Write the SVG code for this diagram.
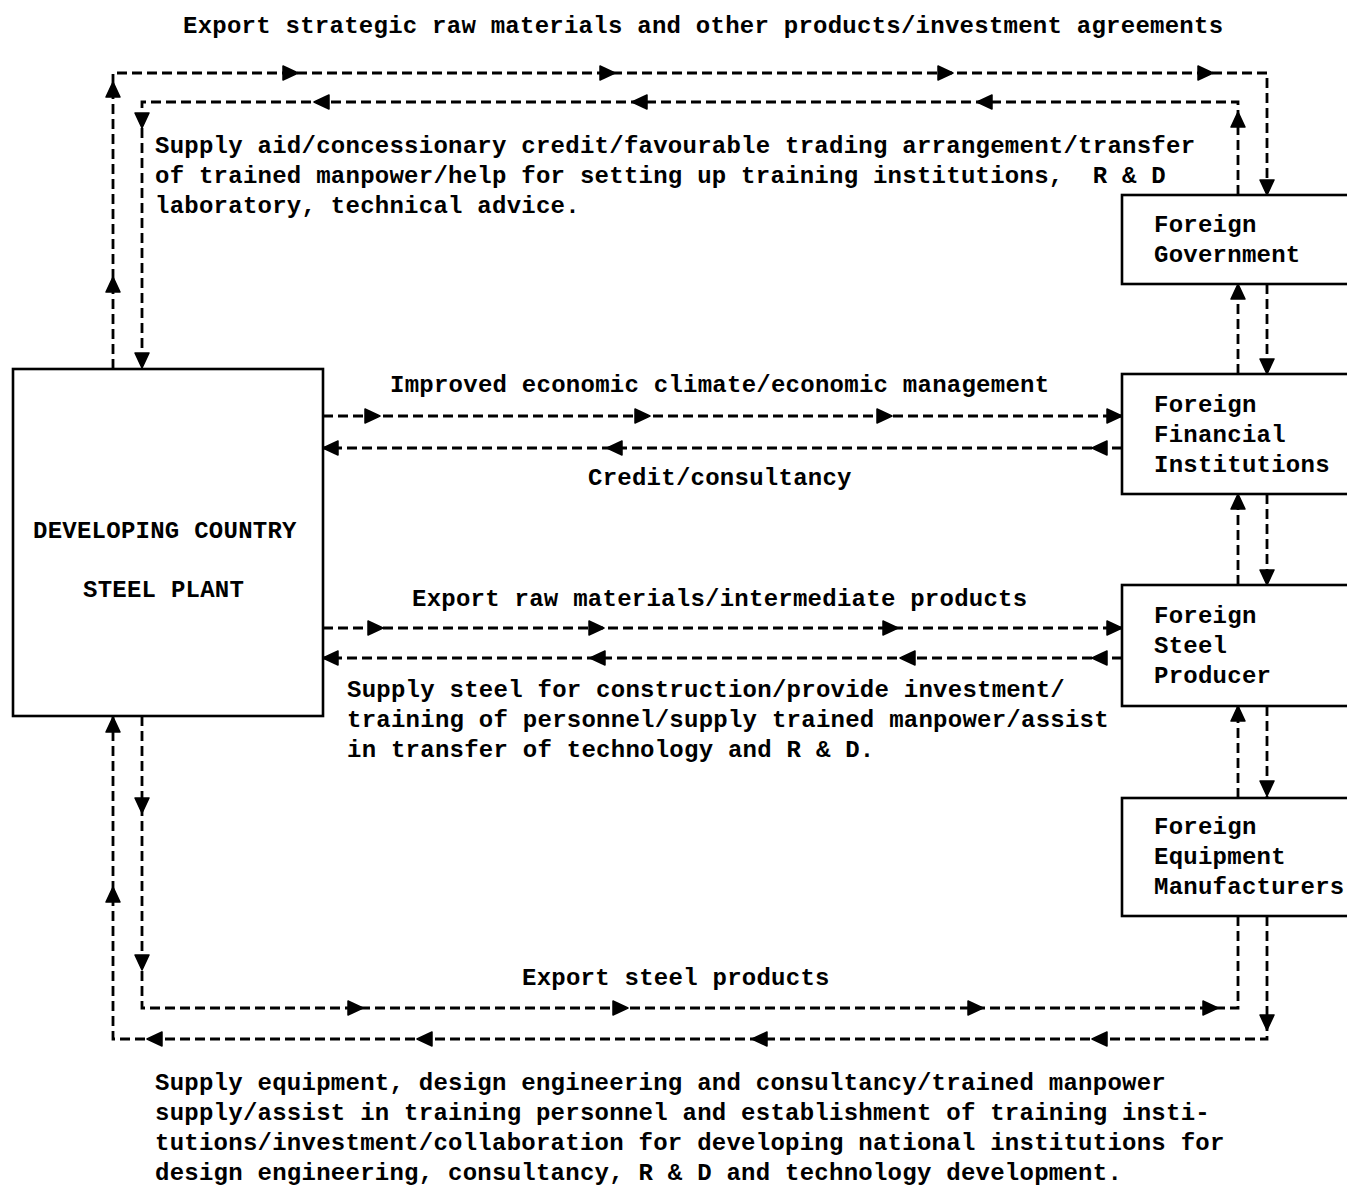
<svg xmlns="http://www.w3.org/2000/svg" xmlns:xlink="http://www.w3.org/1999/xlink" width="1347" height="1186" viewBox="0 0 1347 1186">
<style>
text{font-family:"Liberation Mono","DejaVu Sans Mono",monospace;font-weight:bold;font-size:24px;letter-spacing:0.25px;fill:#000;white-space:pre}
.box{fill:#fff;stroke:#000;stroke-width:2.6}
.dash{fill:none;stroke:#000;stroke-width:2.8;stroke-dasharray:10 5}
.ah{fill:#000;stroke:#000;stroke-width:1.5;stroke-linejoin:round}
</style>
<defs>
<path id="a" class="ah" d="M8,0 L-7,-7 L-7,7 Z"/>
</defs>
<rect width="1347" height="1186" fill="#fff"/>
<g id="connectors">
<path class="dash" d="M113,369 V73 H1267 V195"/>
<path class="dash" d="M1238,195 V102 H142 V369"/>
<path class="dash" d="M1238,374 V284"/>
<path class="dash" d="M1267,284 V374"/>
<path class="dash" d="M1238,585 V494"/>
<path class="dash" d="M1267,494 V585"/>
<path class="dash" d="M1238,798 V706"/>
<path class="dash" d="M1267,706 V798"/>
<path class="dash" d="M142,716 V1008 H1238 V916"/>
<path class="dash" d="M1267,916 V1039 H113 V716"/>
<path class="dash" d="M323,416 H1122"/>
<path class="dash" d="M1122,448 H323"/>
<path class="dash" d="M323,628 H1122"/>
<path class="dash" d="M1122,658 H323"/>
<g>
<use xlink:href="#a" transform="translate(290,73)"/>
<use xlink:href="#a" transform="translate(607,73)"/>
<use xlink:href="#a" transform="translate(945,73)"/>
<use xlink:href="#a" transform="translate(1205,73)"/>
<use xlink:href="#a" transform="translate(1267,187) rotate(90)"/>
<use xlink:href="#a" transform="translate(113,90) rotate(-90)"/>
<use xlink:href="#a" transform="translate(113,285) rotate(-90)"/>
<use xlink:href="#a" transform="translate(322,102) rotate(180)"/>
<use xlink:href="#a" transform="translate(640,102) rotate(180)"/>
<use xlink:href="#a" transform="translate(985,102) rotate(180)"/>
<use xlink:href="#a" transform="translate(1238,120) rotate(-90)"/>
<use xlink:href="#a" transform="translate(142,120) rotate(90)"/>
<use xlink:href="#a" transform="translate(142,360) rotate(90)"/>
<use xlink:href="#a" transform="translate(1238,292) rotate(-90)"/>
<use xlink:href="#a" transform="translate(1267,366) rotate(90)"/>
<use xlink:href="#a" transform="translate(1238,502) rotate(-90)"/>
<use xlink:href="#a" transform="translate(1267,577) rotate(90)"/>
<use xlink:href="#a" transform="translate(1238,714) rotate(-90)"/>
<use xlink:href="#a" transform="translate(1267,788) rotate(90)"/>
<use xlink:href="#a" transform="translate(1267,1022) rotate(90)"/>
<use xlink:href="#a" transform="translate(372,416)"/>
<use xlink:href="#a" transform="translate(642,416)"/>
<use xlink:href="#a" transform="translate(884,416)"/>
<use xlink:href="#a" transform="translate(1114,416)"/>
<use xlink:href="#a" transform="translate(331,448) rotate(180)"/>
<use xlink:href="#a" transform="translate(615,448) rotate(180)"/>
<use xlink:href="#a" transform="translate(1100,448) rotate(180)"/>
<use xlink:href="#a" transform="translate(375,628)"/>
<use xlink:href="#a" transform="translate(596,628)"/>
<use xlink:href="#a" transform="translate(890,628)"/>
<use xlink:href="#a" transform="translate(1114,628)"/>
<use xlink:href="#a" transform="translate(331,658) rotate(180)"/>
<use xlink:href="#a" transform="translate(598,658) rotate(180)"/>
<use xlink:href="#a" transform="translate(908,658) rotate(180)"/>
<use xlink:href="#a" transform="translate(1100,658) rotate(180)"/>
<use xlink:href="#a" transform="translate(355,1008)"/>
<use xlink:href="#a" transform="translate(620,1008)"/>
<use xlink:href="#a" transform="translate(975,1008)"/>
<use xlink:href="#a" transform="translate(1210,1008)"/>
<use xlink:href="#a" transform="translate(155,1039) rotate(180)"/>
<use xlink:href="#a" transform="translate(425,1039) rotate(180)"/>
<use xlink:href="#a" transform="translate(760,1039) rotate(180)"/>
<use xlink:href="#a" transform="translate(1100,1039) rotate(180)"/>
<use xlink:href="#a" transform="translate(113,725) rotate(-90)"/>
<use xlink:href="#a" transform="translate(113,895) rotate(-90)"/>
<use xlink:href="#a" transform="translate(142,805) rotate(90)"/>
<use xlink:href="#a" transform="translate(142,962) rotate(90)"/>
</g>
</g>
<g id="labels">
<text x="183" y="33">Export strategic raw materials and other products/investment agreements</text>
<text x="155" y="153">Supply aid/concessionary credit/favourable trading arrangement/transfer</text>
<text x="155" y="183">of trained manpower/help for setting up training institutions,  R &amp; D</text>
<text x="155" y="213">laboratory, technical advice.</text>
<text x="390" y="392">Improved economic climate/economic management</text>
<text x="588" y="485">Credit/consultancy</text>
<text x="412" y="606">Export raw materials/intermediate products</text>
<text x="347" y="697">Supply steel for construction/provide investment/</text>
<text x="347" y="727">training of personnel/supply trained manpower/assist</text>
<text x="347" y="757">in transfer of technology and R &amp; D.</text>
<text x="522" y="985">Export steel products</text>
<text x="155" y="1090">Supply equipment, design engineering and consultancy/trained manpower</text>
<text x="155" y="1120">supply/assist in training personnel and establishment of training insti-</text>
<text x="155" y="1150">tutions/investment/collaboration for developing national institutions for</text>
<text x="155" y="1180">design engineering, consultancy, R &amp; D and technology development.</text>
</g>
<g id="steel-plant">
<rect class="box" x="13" y="369" width="310" height="347"/>
<text x="33" y="538">DEVELOPING COUNTRY</text>
<text x="83" y="597">STEEL PLANT</text>
</g>
<g id="foreign-government">
<rect class="box" x="1122" y="195" width="240" height="89"/>
<text x="1154" y="232">Foreign</text>
<text x="1154" y="262">Government</text>
</g>
<g id="foreign-financial">
<rect class="box" x="1122" y="374" width="240" height="120"/>
<text x="1154" y="412">Foreign</text>
<text x="1154" y="442">Financial</text>
<text x="1154" y="472">Institutions</text>
</g>
<g id="foreign-steel">
<rect class="box" x="1122" y="585" width="240" height="121"/>
<text x="1154" y="623">Foreign</text>
<text x="1154" y="653">Steel</text>
<text x="1154" y="683">Producer</text>
</g>
<g id="foreign-equipment">
<rect class="box" x="1122" y="798" width="240" height="118"/>
<text x="1154" y="834">Foreign</text>
<text x="1154" y="864">Equipment</text>
<text x="1154" y="894">Manufacturers</text>
</g>
</svg>
